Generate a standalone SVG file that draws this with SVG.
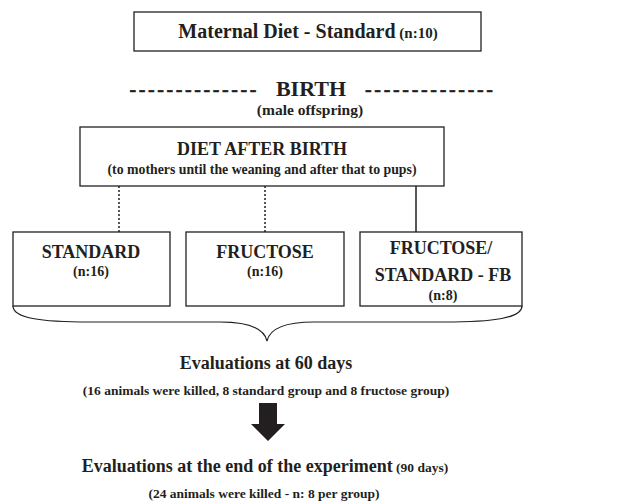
<svg xmlns="http://www.w3.org/2000/svg" width="622" height="502" viewBox="0 0 622 502">
<style>
text{font-family:"Liberation Serif","Times New Roman",serif;font-weight:bold;fill:#231f20;text-anchor:middle}
.box{fill:#fff;stroke:#231f20;stroke-width:1.3}
.h{font-size:18px}
.s{font-size:13.5px}
.dash{font-size:20px;stroke:#231f20;stroke-width:0.5}
</style>
<rect width="622" height="502" fill="#fff"/>
<g id="maternal">
<rect class="box" x="134" y="12" width="347" height="39"/>
<text x="308" y="38"><tspan style="font-size:20px">Maternal Diet - Standard</tspan><tspan style="font-size:15px"> (n:10)</tspan></text>
</g>
<g id="birth">
<text class="dash" x="193" y="96" textLength="127" lengthAdjust="spacing">--------------</text>
<text style="font-size:22px" x="311" y="96">BIRTH</text>
<text class="dash" x="429" y="96" textLength="128" lengthAdjust="spacing">--------------</text>
<text style="font-size:15.5px" x="310" y="115">(male offspring)</text>
</g>
<g id="diet">
<rect class="box" x="80" y="127" width="364" height="59"/>
<text style="font-size:18px" x="262" y="155">DIET AFTER BIRTH</text>
<text style="font-size:13.8px" x="262" y="174">(to mothers until the weaning and after that to pups)</text>
</g>
<g id="connectors" stroke="#231f20" stroke-width="1.5" fill="none">
<line x1="119" y1="186" x2="119" y2="232" stroke-dasharray="2 2"/>
<line x1="265" y1="186" x2="265" y2="232" stroke-dasharray="2 2"/>
<line x1="416" y1="186" x2="416" y2="232"/>
<path d="M13 306 C13 318 40 322 90 322 L220 322 C255 322 265 332 267 341 C269 332 279 322 314 322 L444 322 C494 322 522 318 522 306" stroke-width="1.2"/>
<path d="M259 403 H277 V424 H285 L268 441 L251 424 H259 Z" fill="#231f20" stroke="none"/>
</g>
<g id="standard">
<rect class="box" x="13" y="232" width="157" height="74"/>
<text class="h" x="91" y="258">STANDARD</text>
<text style="font-size:14px" x="91" y="276">(n:16)</text>
</g>
<g id="fructose">
<rect class="box" x="186" y="232" width="158" height="74"/>
<text class="h" x="265" y="258">FRUCTOSE</text>
<text style="font-size:14px" x="265" y="276">(n:16)</text>
</g>
<g id="fb">
<rect class="box" x="360" y="232" width="162" height="74"/>
<text class="h" x="441" y="254">FRUCTOSE/</text>
<text class="h" x="443" y="281">STANDARD - FB</text>
<text style="font-size:14px" x="443" y="300">(n:8)</text>
</g>
<g id="eval60">
<text class="h" x="266" y="369">Evaluations at 60 days</text>
<text class="s" x="266" y="395">(16 animals were killed, 8 standard group and 8 fructose group)</text>
</g>
<g id="eval90">
<text x="265" y="472"><tspan class="h">Evaluations at the end of the experiment</tspan><tspan class="s"> (90 days)</tspan></text>
<text class="s" x="264" y="498">(24 animals were killed - n: 8 per group)</text>
</g>
</svg>
